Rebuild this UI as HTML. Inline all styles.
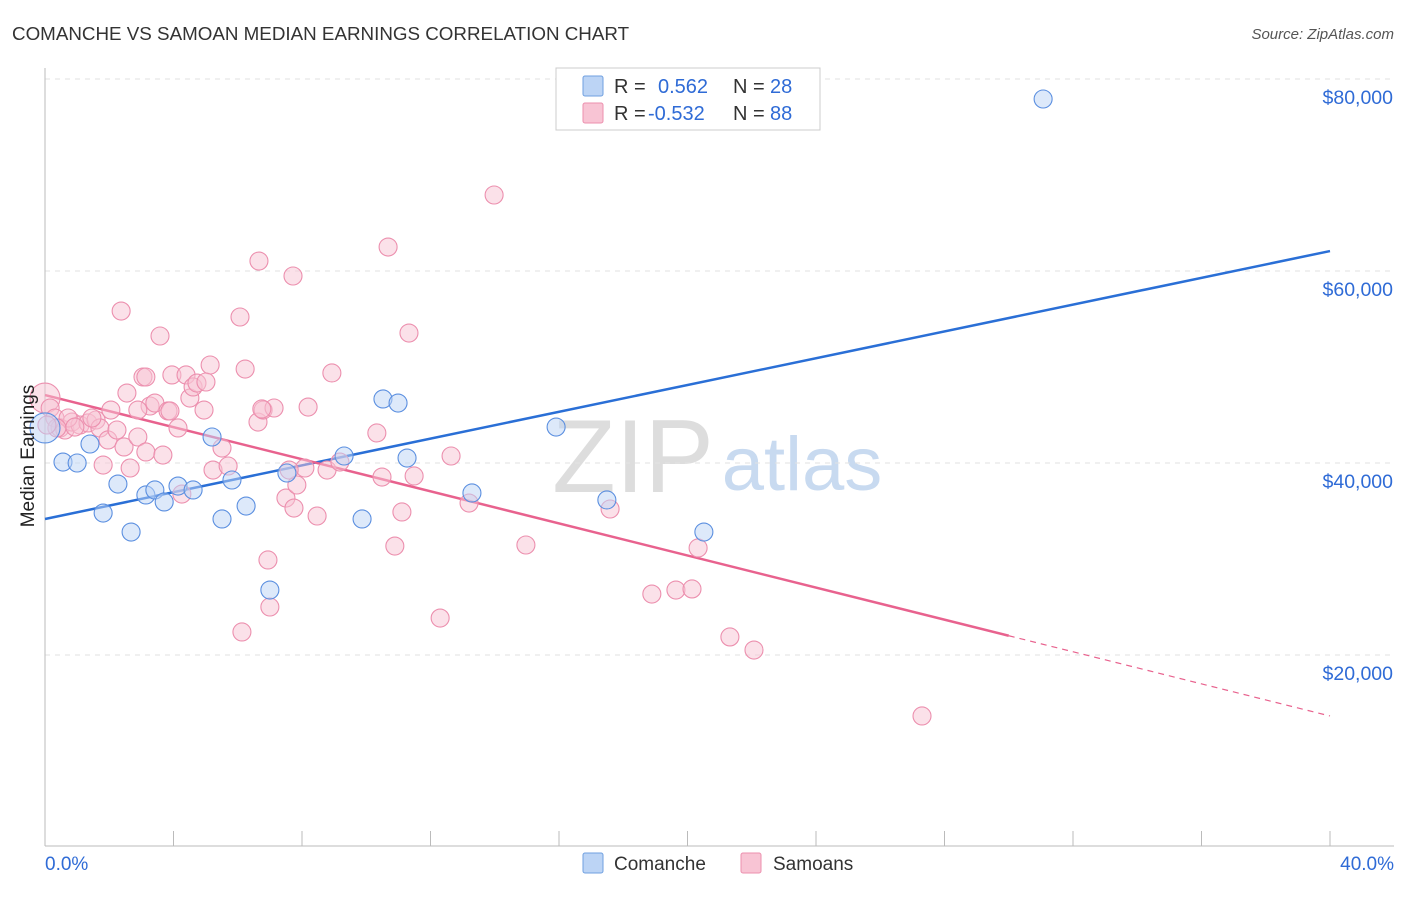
<!DOCTYPE html>
<html><head><meta charset="utf-8"><style>
body{margin:0;background:#fff;font-family:"Liberation Sans",sans-serif;}
svg text{font-family:"Liberation Sans",sans-serif;}
</style></head><body>
<svg id="c" width="1406" height="892" viewBox="0 0 1406 892">
<text x="12" y="40" font-size="18.8" fill="#333">COMANCHE VS SAMOAN MEDIAN EARNINGS CORRELATION CHART</text>
<text x="1394" y="39" font-size="15" fill="#555" font-style="italic" text-anchor="end">Source: ZipAtlas.com</text>
<text x="633" y="492" font-size="104" fill="#ddd" font-family="Liberation Serif" text-anchor="middle">ZIP</text>
<text x="802" y="490" font-size="76" fill="#c8daf0" text-anchor="middle">atlas</text>
<g id="grid"></g><g id="axes"></g><g id="lines"></g><g id="pts"></g>
<text x="34" y="456" font-size="19" fill="#222" text-anchor="middle" transform="rotate(-90 34 456)">Median Earnings</text>
<g>
<rect x="556" y="68" width="264" height="62" fill="#fff" stroke="#ccc"/>
<rect x="583" y="76" width="20" height="20" fill="#bcd4f5" stroke="#6f9fe0" rx="2"/>
<rect x="583" y="103" width="20" height="20" fill="#f8c4d4" stroke="#ec8fae" rx="2"/>
<text x="614" y="93" font-size="20" fill="#333">R = </text><text x="658" y="93" font-size="20" fill="#2f6bd6">0.562</text>
<text x="733" y="93" font-size="20" fill="#333">N = </text><text x="770" y="93" font-size="20" fill="#2f6bd6">28</text>
<text x="614" y="120" font-size="20" fill="#333">R = </text><text x="648" y="120" font-size="20" fill="#2f6bd6">-0.532</text>
<text x="733" y="120" font-size="20" fill="#333">N = </text><text x="770" y="120" font-size="20" fill="#2f6bd6">88</text>
</g>
<g>
<rect x="583" y="853" width="20" height="20" fill="#bcd4f5" stroke="#6f9fe0" rx="2"/>
<text x="614" y="870" font-size="19" fill="#333">Comanche</text>
<rect x="741" y="853" width="20" height="20" fill="#f8c4d4" stroke="#ec8fae" rx="2"/>
<text x="773" y="870" font-size="19" fill="#333">Samoans</text>
</g>
<text x="45" y="870" font-size="19" fill="#2f6bd6">0.0%</text>
<text x="1394" y="870" font-size="19" fill="#2f6bd6" text-anchor="end">40.0%</text>
</svg>
<script>
const yTicks=[20000,40000,60000,80000];
const yTickLabels=["$20,000","$40,000","$60,000","$80,000"];
const xTicks=[0,4,8,12,16,20,24,28,32,36,40];
const blueX=[0,0.56,1.0,1.4,1.81,2.27,2.68,3.14,3.42,3.71,4.14,4.61,5.2,5.51,5.82,6.26,7.0,7.53,9.31,9.87,10.52,10.99,11.27,13.29,15.91,17.49,20.51,31.07];
const blueY=[43650,40100,40000,41980,34790,37810,32810,36670,37190,35940,37600,37190,42710,34170,38230,35520,26770,38960,40730,34170,46670,46250,40520,36880,43750,36150,32810,77920];
const pinkX=[0,0.16,0.31,0.47,0.62,0.84,1.09,1.34,1.59,1.71,1.81,1.96,2.05,2.24,2.46,2.55,2.65,2.89,3.05,3.14,3.27,3.42,3.58,3.67,3.83,3.95,4.14,4.26,4.39,4.51,4.61,4.73,4.95,5.14,5.23,5.51,5.70,6.07,6.23,6.63,6.66,6.79,6.94,7.00,7.13,7.50,7.72,7.75,7.84,8.09,8.19,8.47,8.78,8.93,9.18,10.33,10.49,10.68,10.89,11.11,11.33,11.49,12.3,12.64,13.2,13.98,14.97,17.59,18.89,19.64,20.14,20.33,21.32,22.07,27.3,6.13,2.37,3.14,3.89,5.01,6.75,7.6,2.89,1.46,0.72,0.93,0.37,0.06];
const pinkY=[46770,45730,44690,43650,43440,44270,43960,44170,44480,43650,39790,42400,45520,43440,41670,47290,39480,42710,48960,41150,45940,46250,53230,40830,45420,49170,43650,36770,49170,46770,47920,48330,45520,50210,39270,41560,39690,55210,49790,44270,61040,45520,29900,25000,45730,36350,59480,35310,37710,39480,45830,34480,39270,49380,40100,43130,38540,62500,31350,34900,53540,38650,23850,40730,35830,67920,31460,35210,26350,26770,26880,31150,21880,20520,13650,22400,55830,48960,45420,48440,45630,39270,45520,44690,44690,43750,43650,43960];
const blueFit=[34170,62080];
const pinkFit=[47080,13650];
const pinkSolidEnd=30;
const NS="http://www.w3.org/2000/svg";
const X=v=>45+v*32.125, Y=v=>847-v/104.17;
function mk(t,a,p){const e=document.createElementNS(NS,t);for(const k in a)e.setAttribute(k,a[k]);p.appendChild(e);return e;}
const grid=document.getElementById('grid'),axes=document.getElementById('axes'),lines=document.getElementById('lines'),pts=document.getElementById('pts');
mk('line',{x1:45,y1:79,x2:1394,y2:79,stroke:'#e2e2e2','stroke-dasharray':'5,5'},grid);
yTicks.forEach((t,i)=>{
 const l=mk('line',{x1:45,y1:Y(t),x2:1394,y2:Y(t),stroke:'#e2e2e2','stroke-dasharray':'5,5'},grid);
 
 
 const tx=mk('text',{x:1393,y:Y(t)+25,'font-size':19.5,fill:'#2f6bd6','text-anchor':'end'},axes);
 tx.textContent=yTickLabels[i];
 
 
});
const yax=mk('line',{x1:45,y1:68,x2:45,y2:846,stroke:'#bbb'},axes);


const xax=mk('line',{x1:45,y1:846,x2:1394,y2:846,stroke:'#bbb'},axes);


xTicks.forEach(t=>{
 const l=mk('line',{x1:X(t),y1:831,x2:X(t),y2:846,stroke:'#bbb'},axes);
 
 
});
function pt(x,y,fill,stroke,big){
 return mk('circle',{cx:X(x),cy:Y(y),r:big?15:9,fill:fill,'fill-opacity':big?0.5:0.5,stroke:stroke,'stroke-width':1.1},pts);
}
pinkX.forEach((x,i)=>{
 const c=pt(x,pinkY[i],'#f8c4d4','#ec8fae',i===0);
 
 
});
blueX.forEach((x,i)=>{
 const c=pt(x,blueY[i],'#bcd4f5','#5b8fe0',i===0);
 
 
});
const bl=mk('line',{x1:X(0),y1:Y(blueFit[0]),x2:X(40),y2:Y(blueFit[1]),stroke:'#2a6fd6','stroke-width':2.5},lines);


const py=x=>pinkFit[0]+(pinkFit[1]-pinkFit[0])*x/40;
const pl=mk('line',{x1:X(0),y1:Y(py(0)),x2:X(pinkSolidEnd),y2:Y(py(pinkSolidEnd)),stroke:'#e8628e','stroke-width':2.5},lines);


const pd=mk('line',{x1:X(pinkSolidEnd),y1:Y(py(pinkSolidEnd)),x2:X(40),y2:Y(py(40)),stroke:'#e8628e','stroke-width':1.2,'stroke-dasharray':'6,5'},lines);


</script>
</body></html>
